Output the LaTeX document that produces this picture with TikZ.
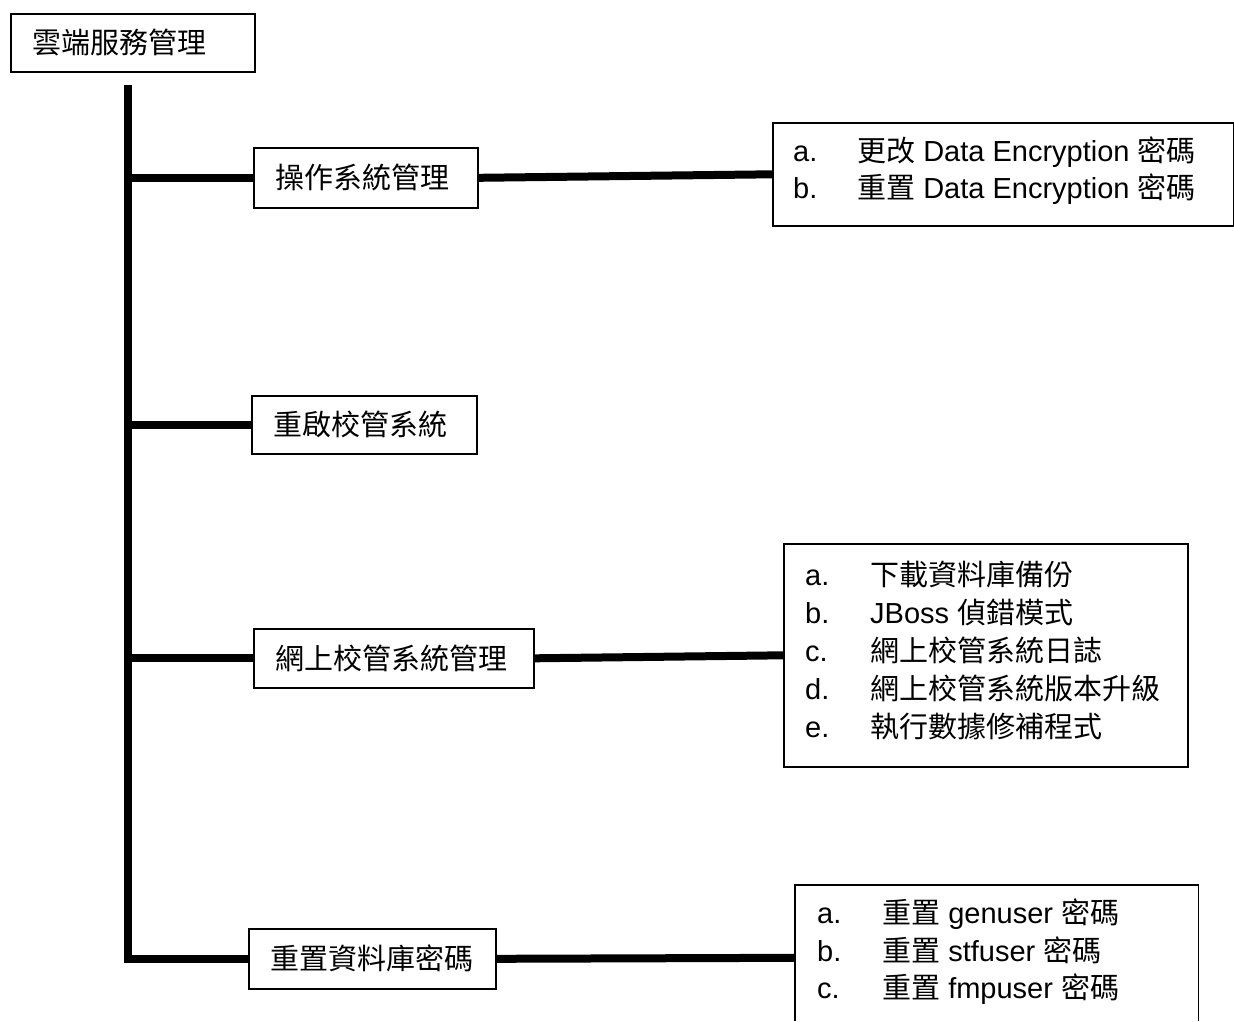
\documentclass[tikz,border=0pt]{standalone}
\usepackage{fontspec}
\setmainfont{Liberation Sans}
\newfontfamily\cjkfont{Noto Sans CJK TC}
\newcommand\cj[1]{{\cjkfont #1}}
\begin{document}
\begin{tikzpicture}[x=1pt,y=-1pt,
  box/.style={draw, line width=1.6pt, anchor=north west, inner xsep=22pt, inner ysep=0pt,
    align=left, font=\cjkfont\fontsize{29}{35}\selectfont},
  listbox/.style={draw, line width=1.6pt, anchor=north west, inner sep=0pt},
  conn/.style={line width=8pt, line join=miter},
  item/.style={anchor=base west, inner sep=0pt, font=\fontsize{29}{35}\selectfont}]
\useasboundingbox (0,0) rectangle (1234,1021);
\coordinate (bl) at (0,1021);
% main boxes
\node[box, text width=200pt, minimum height=58pt] (root) at (10,13) {雲端服務管理};
\node[box, text width=180pt, minimum height=60pt] (b1) at (253,147) {操作系統管理};
\node[box, text width=181pt, minimum height=58pt] (b2) at (251,395) {重啟校管系統};
\node[box, text width=236pt, minimum height=59pt] (b3) at (253,628) {網上校管系統管理};
\node[box, text width=203pt, minimum height=60pt] (b4) at (248,928) {重置資料庫密碼};
% list boxes
\node[listbox, minimum width=461pt, minimum height=103pt] (l1) at (772,122) {};
\node[listbox, minimum width=404pt, minimum height=223pt] (l3) at (783,543) {};
\node[listbox, draw=none, minimum width=402pt, minimum height=144pt] (l4) at (795,885) {};
\draw[line width=1.6pt] (l4.north west |- bl) -- (l4.north west) -- (l4.north east) -- (l4.north east |- bl);
% list 1
\node[item] (l1a) at (793,161) {a.};
\node[item] (l1at) at (857,161) {\cj{更改} Data Encryption \cj{密碼}};
\node[item] (l1b) at (793,198) {b.};
\node[item] (l1bt) at (857,198) {\cj{重置} Data Encryption \cj{密碼}};
% list 3
\node[item] (l3a) at (805,585) {a.};
\node[item] (l3at) at (870,585) {\cj{下載資料庫備份}};
\node[item] (l3b) at (805,623) {b.};
\node[item] (l3bt) at (870,623) {JBoss \cj{偵錯模式}};
\node[item] (l3c) at (805,661) {c.};
\node[item] (l3ct) at (870,661) {\cj{網上校管系統日誌}};
\node[item] (l3d) at (805,699) {d.};
\node[item] (l3dt) at (870,699) {\cj{網上校管系統版本升級}};
\node[item] (l3e) at (805,737) {e.};
\node[item] (l3et) at (870,737) {\cj{執行數據修補程式}};
% list 4
\node[item] (l4a) at (817,923) {a.};
\node[item] (l4at) at (882,923) {\cj{重置} genuser \cj{密碼}};
\node[item] (l4b) at (817,961) {b.};
\node[item] (l4bt) at (882,961) {\cj{重置} stfuser \cj{密碼}};
\node[item] (l4c) at (817,998) {c.};
\node[item] (l4ct) at (882,998) {\cj{重置} fmpuser \cj{密碼}};
% connectors
\coordinate (top) at (128,85);
\draw[conn] (top) -- (top |- b4.west) -- (b4.west);
\draw[conn] (top |- b1.west) -- (b1.west);
\draw[conn] (top |- b2.west) -- (b2.west);
\draw[conn] (top |- b3.west) -- (b3.west);
\draw[conn] (b1.east) -- (l1.west);
\draw[conn] (b3.east) -- (l3.west);
\draw[conn] (b4.east) -- (l4.west);
\end{tikzpicture}
\end{document}
